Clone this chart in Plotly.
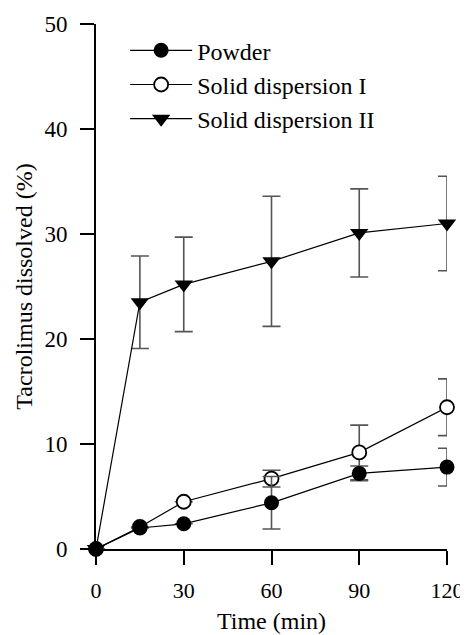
import plotly.graph_objects as go

time_min = [0, 15, 30, 60, 90, 120]

powder = [0.0, 2.0, 2.4, 4.4, 7.2, 7.8]
powder_err = [0.0, 0.0, 0.0, 2.5, 0.7, 1.8]

sd1 = [0.0, 2.1, 4.5, 6.7, 9.2, 13.5]
sd1_err = [0.0, 0.0, 0.0, 0.8, 2.6, 2.7]

sd2 = [0.0, 23.5, 25.2, 27.4, 30.1, 31.0]
sd2_err = [0.0, 4.4, 4.5, 6.2, 4.2, 4.5]

y_ticks = [0, 10, 20, 30, 40, 50]
x_ticks = [0, 30, 60, 90, 120]

FONT = "Liberation Serif"
ERR = dict(type="data", visible=True, color="#555555", thickness=1.6, width=9)

fig = go.Figure()

fig.add_trace(go.Scatter(
    x=time_min, y=sd2, name="Solid dispersion II", mode="lines+markers",
    line=dict(color="black", width=1.2),
    marker=dict(symbol="triangle-down", size=16, color="black"),
    error_y=dict(array=sd2_err, **ERR), cliponaxis=False,
))
fig.add_trace(go.Scatter(
    x=time_min, y=sd1, name="Solid dispersion I", mode="lines+markers",
    line=dict(color="black", width=1.2),
    marker=dict(symbol="circle", size=14, color="white", line=dict(color="black", width=1.8)),
    error_y=dict(array=sd1_err, **ERR), cliponaxis=False,
))
fig.add_trace(go.Scatter(
    x=time_min, y=powder, name="Powder", mode="lines+markers",
    line=dict(color="black", width=1.2),
    marker=dict(symbol="circle", size=15, color="black"),
    error_y=dict(array=powder_err, **ERR), cliponaxis=False,
))

fig.update_layout(
    width=460, height=627,
    margin=dict(l=88, r=21, t=16, b=86, autoexpand=False),
    paper_bgcolor="white", plot_bgcolor="white",
    font=dict(family=FONT, size=22, color="black"),
    showlegend=True,
    legend=dict(
        x=0.083, y=0.992, xanchor="left", yanchor="top",
        traceorder="reversed", bgcolor="rgba(0,0,0,0)",
        font=dict(family=FONT, size=24, color="black"), itemwidth=62,
        tracegroupgap=0,
    ),
    xaxis=dict(
        range=[0, 120], tickvals=x_ticks, ticktext=[str(v) for v in x_ticks],
        showgrid=False, zeroline=False, showline=True, linecolor="black", linewidth=1.5,
        ticks="outside", ticklen=14, tickwidth=2, tickcolor="black", ticklabelstandoff=7,
        tickfont=dict(family=FONT, size=22, color="black"), automargin=False,
        title=dict(text="Time (min)", font=dict(family=FONT, size=24, color="black"), standoff=10),
    ),
    yaxis=dict(
        range=[0, 50], tickvals=y_ticks, ticktext=[str(v) for v in y_ticks],
        showgrid=False, zeroline=False, showline=True, linecolor="black", linewidth=2,
        ticks="outside", ticklen=14, tickwidth=2, tickcolor="black", ticklabelstandoff=8,
        tickfont=dict(family=FONT, size=23, color="black"), automargin=False,
        title=dict(text="Tacrolimus dissolved (%)", font=dict(family=FONT, size=24, color="black"), standoff=5),
    ),
)

fig.write_html("out.html")
